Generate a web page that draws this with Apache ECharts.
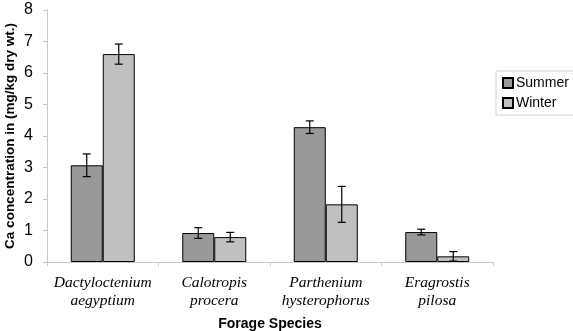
<!DOCTYPE html>
<html>
<head>
<meta charset="utf-8">
<script src="https://cdn.jsdelivr.net/npm/echarts@6/dist/echarts.min.js"></script>
<style>html,body{margin:0;padding:0;background:#fff;}#c{width:573px;height:331px;}</style>
</head>
<body>
<div id="c"></div>
<script>
const categories = ['Dactyloctenium\naegyptium', 'Calotropis\nprocera', 'Parthenium\nhysterophorus', 'Eragrostis\npilosa'];
const summer = [3.07, 0.92, 4.28, 0.95];
const summerErr = [0.36, 0.17, 0.2, 0.09];
const winter = [6.6, 0.79, 1.83, 0.18];
const winterErr = [0.32, 0.15, 0.57, 0.15];
const yTicks = [0, 1, 2, 3, 4, 5, 6, 7, 8];

const BAR_W = 32;
function errData(vals, errs) {
  return vals.map((v, i) => [i, v - errs[i], v + errs[i]]);
}
function errRender(offset) {
  return function (params, api) {
    const lo = api.coord([api.value(0), api.value(1)]);
    const hi = api.coord([api.value(0), api.value(2)]);
    const x = lo[0] + offset;
    const cap = 4;
    const style = { stroke: '#000', lineWidth: 1.2 };
    return {
      type: 'group',
      children: [
        { type: 'line', shape: { x1: x, y1: hi[1], x2: x, y2: lo[1] }, style },
        { type: 'line', shape: { x1: x - cap, y1: hi[1], x2: x + cap, y2: hi[1] }, style },
        { type: 'line', shape: { x1: x - cap, y1: lo[1], x2: x + cap, y2: lo[1] }, style }
      ]
    };
  };
}

const chart = echarts.init(document.getElementById('c'));
chart.setOption({
  animation: false,
  backgroundColor: '#fff',
  grid: { left: 47, right: 80, top: 10, bottom: 69, containLabel: false, outerBoundsMode: 'none' },
  legend: {
    data: ['Summer', 'Winter'],
    orient: 'vertical',
    left: 496, top: 71,
    padding: [5, 8, 5, 6],
    itemGap: 6,
    itemWidth: 10, itemHeight: 10,
    icon: 'rect',
    borderColor: '#cfcfcf', borderWidth: 1,
    backgroundColor: '#fff',
    textStyle: { fontFamily: 'Liberation Sans, Arial', fontSize: 14, color: '#000', padding: [0, 0, 0, -2] }
  },
  xAxis: {
    type: 'category',
    data: categories,
    name: 'Forage Species',
    nameLocation: 'middle',
    nameGap: 55,
    nameMoveOverlap: false,
    nameTextStyle: { fontFamily: 'Liberation Sans, Arial', fontWeight: 'bold', fontSize: 14, color: '#000' },
    axisLine: { lineStyle: { color: '#c8c8c8', width: 1 } },
    axisTick: { show: true, length: 4, lineStyle: { color: '#c8c8c8' } },
    axisLabel: {
      fontFamily: 'Liberation Serif, Times New Roman', fontStyle: 'italic', fontSize: 15.5,
      color: '#000', lineHeight: 18, margin: 12, interval: 0
    }
  },
  yAxis: {
    type: 'value',
    min: 0, max: 8, interval: 1,
    name: 'Ca concentration in (mg/kg dry wt.)',
    nameLocation: 'middle',
    nameGap: 30,
    nameMoveOverlap: false,
    nameTextStyle: { fontFamily: 'Liberation Sans, Arial', fontWeight: 'bold', fontSize: 13.5, color: '#000' },
    axisLine: { show: true, lineStyle: { color: '#c8c8c8', width: 1 } },
    axisTick: { show: true, length: 4, lineStyle: { color: '#c8c8c8' } },
    splitLine: { show: false },
    axisLabel: {
      fontFamily: 'Liberation Sans, Arial', fontSize: 16, color: '#000', margin: 14,
      formatter: v => (yTicks.indexOf(v) >= 0 ? String(v) : '')
    }
  },
  series: [
    {
      name: 'Summer', type: 'bar', data: summer, barWidth: BAR_W, barGap: '0%',
      itemStyle: { color: '#999999', borderColor: '#000', borderWidth: 1 }
    },
    {
      name: 'Winter', type: 'bar', data: winter, barWidth: BAR_W, barGap: '0%',
      itemStyle: { color: '#c0c0c0', borderColor: '#000', borderWidth: 1 }
    },
    {
      type: 'custom', data: errData(summer, summerErr), renderItem: errRender(-BAR_W / 2),
      encode: { x: 0, y: [1, 2] }, z: 10, silent: true
    },
    {
      type: 'custom', data: errData(winter, winterErr), renderItem: errRender(BAR_W / 2),
      encode: { x: 0, y: [1, 2] }, z: 10, silent: true
    }
  ]
});
</script>
</body>
</html>
